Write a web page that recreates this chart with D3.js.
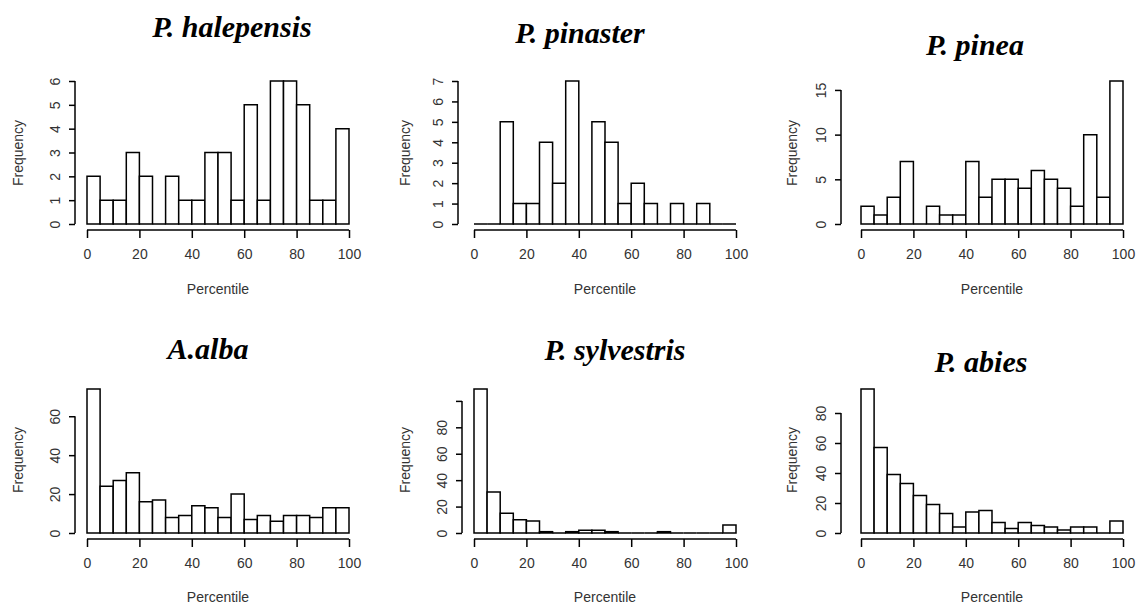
<!DOCTYPE html>
<html><head><meta charset="utf-8">
<script src="https://cdn.jsdelivr.net/npm/d3@7"></script>
<style>
body{margin:0;background:#fff;}
svg{display:block;}
.title{font-family:"Liberation Serif","Times New Roman",serif;font-style:italic;font-weight:bold;font-size:30px;fill:#000;}
.lab{font-family:"Liberation Sans",Arial,sans-serif;font-size:14px;fill:#333;}
</style></head>
<body>
<script>
// ---- data ----
const binEdges = [0,5,10,15,20,25,30,35,40,45,50,55,60,65,70,75,80,85,90,95,100];
const species = ["P. halepensis","P. pinaster","P. pinea","A.alba","P. sylvestris","P. abies"];
const halepensis = [2,1,1,3,2,0,2,1,1,3,3,1,5,1,6,6,5,1,1,4];
const pinaster   = [0,0,5,1,1,4,2,7,0,5,4,1,2,1,0,1,0,1,0,0];
const pinea      = [2,1,3,7,0,2,1,1,7,3,5,5,4,6,5,4,2,10,3,16];
const alba       = [74,24,27,31,16,17,8,9,14,13,8,20,7,9,6,9,9,8,13,13];
const sylvestris = [109,31,15,10,9,1,0,1,2,2,1,0,0,0,1,0,0,0,0,6];
const abies      = [96,57,39,33,25,19,13,4,14,15,7,3,7,5,4,2,4,4,0,8];
const xTicks = [0,20,40,60,80,100];
const yTicksHalepensis = [0,1,2,3,4,5,6];
const yTicksPinaster = [0,1,2,3,4,5,6,7];
const yTicksPinea = [0,5,10,15];
const yTicksAlba = [0,20,40,60];
const yTicksSylvestris = [0,20,40,60,80,100];
const yTicksAbies = [0,20,40,60,80];
const yLabelHidden = [[],[],[],[],[100],[]];
const xLabel = "Percentile", yLabel = "Frequency";

const counts = [halepensis,pinaster,pinea,alba,sylvestris,abies];
const yTicks = [yTicksHalepensis,yTicksPinaster,yTicksPinea,yTicksAlba,yTicksSylvestris,yTicksAbies];

// ---- layout ----
const W = 1137, H = 608;
const colX0 = [87, 474, 861], plotW = 262;
const rows = [
  {base:224, top:81, axisY:230, xlab:294, ylabY:153},
  {base:533, top:389, axisY:539, xlab:602, ylabY:460}
];
const yAxisGap = [12, 16, 20, 12, 12, 20];
const titlePos = [[232,37],[580,43],[975,55],[208,359],[615,360],[981,372]];

const svg = d3.select("body").append("svg").attr("width",W).attr("height",H);

counts.forEach((c, i) => {
  const r = rows[Math.floor(i/3)];
  const x0 = colX0[i%3];
  const x = d3.scaleLinear().domain([0,100]).range([x0, x0+plotW]);
  const y = d3.scaleLinear().domain([0, d3.max(c)]).range([r.base, r.top]);
  const g = svg.append("g");

  // bars (paths so that empty bins still show as a baseline)
  const bins = c.map((v,k)=>({x0:binEdges[k], x1:binEdges[k+1], v}));
  g.selectAll("path.bar").data(bins).join("path").attr("class","bar")
    .attr("d", d=>`M${x(d.x0)},${y(0)}V${y(d.v)}H${x(d.x1)}V${y(0)}Z`)
    .attr("fill","#fff").attr("stroke","#000").attr("stroke-width",1.5)
    .attr("stroke-linejoin","miter");

  // x axis
  const xa = g.append("g").attr("transform",`translate(0,${r.axisY})`)
    .call(d3.axisBottom(x).tickValues(xTicks).tickSize(8).tickPadding(11).tickFormat(d3.format("d")));
  xa.select(".domain").attr("stroke","#000").attr("stroke-width",1.5).attr("d",`M${x(0)},0H${x(100)}`);
  xa.selectAll(".tick line").attr("stroke","#000").attr("stroke-width",1.5);
  xa.selectAll(".tick text").attr("class","lab").attr("font-size",14).attr("fill","#333");

  // y axis
  const ax = x0 - yAxisGap[i];
  const ticks = yTicks[i];
  const ya = g.append("g").attr("transform",`translate(${ax},0)`)
    .call(d3.axisLeft(y).tickValues(ticks).tickSize(6).tickPadding(4)
      .tickFormat(d => yLabelHidden[i].includes(d) ? "" : d3.format("d")(d)));
  ya.select(".domain").attr("stroke","#000").attr("stroke-width",1.5)
    .attr("d",`M0,${y(ticks[0])}V${y(ticks[ticks.length-1])}`);
  ya.selectAll(".tick line").attr("stroke","#000").attr("stroke-width",1.5);
  ya.selectAll(".tick text").attr("class","lab").attr("font-size",14).attr("fill","#333")
    .attr("transform", `rotate(-90,-20,0)`).attr("x",-20).attr("dy","0.35em")
    .attr("text-anchor","middle").attr("y",0);

  // axis labels
  g.append("text").attr("class","lab").attr("x", x(50)).attr("y", r.xlab)
    .attr("text-anchor","middle").text(xLabel);
  g.append("text").attr("class","lab")
    .attr("transform",`translate(${x0-69},${r.ylabY}) rotate(-90)`)
    .attr("dy","0.35em").attr("text-anchor","middle").text(yLabel);

  // title
  svg.append("text").attr("class","title").attr("x",titlePos[i][0]).attr("y",titlePos[i][1])
    .attr("text-anchor","middle").text(species[i]);
});
</script>
</body></html>
